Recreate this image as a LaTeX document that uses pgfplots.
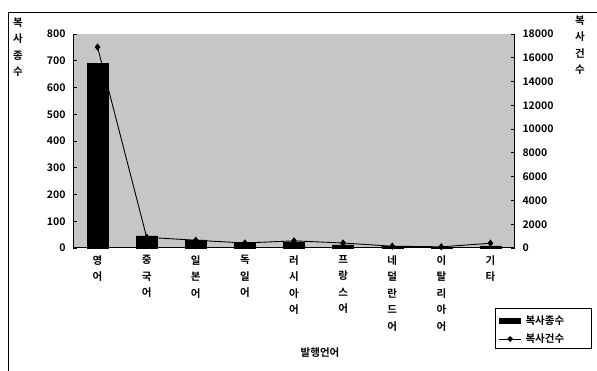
\documentclass[border=0pt]{standalone}
\usepackage{pgfplots}
\pgfplotsset{compat=1.18}
\usepackage{fontspec}
\setmainfont{Noto Sans CJK KR Bold}
\begin{document}
\begin{tikzpicture}[x=1pt,y=1pt,font=\fontsize{10.5}{16.5}\selectfont]
\useasboundingbox (0,0) rectangle (597,371);
\draw[line width=0.8pt] (8,0) -- (8,359) -- (597,359);
\begin{axis}[
  at={(73pt,123pt)}, anchor=south west,
  scale only axis, width=442pt, height=214pt,
  xmin=-0.5, xmax=8.5, ymin=0, ymax=800,
  axis background/.style={fill=gray!45},
  axis y line*=left, axis x line*=bottom,
  axis line style={line width=1pt},
  xtick={0,...,8},
  xticklabels={{영\\어},{중\\국\\어},{일\\본\\어},{독\\일\\어},{러\\시\\아\\어},{프\\랑\\스\\어},{네\\덜\\란\\드\\어},{이\\탈\\리\\아\\어},{기\\타}},
  xticklabel style={align=center, anchor=north, yshift=-4pt},
  x tick style={draw=none},
  ytick={0,100,...,800},
  ytick style={black, line width=0.8pt},
  tick align=inside, major tick length=4pt,
  yticklabel style={xshift=-4pt},
  /pgf/number format/assume math mode=true,
  clip=false,
]
\addplot[ybar, bar width=21pt, fill=black, draw=black] coordinates {
(0,690) (1,45) (2,30) (3,20) (4,22) (5,12) (6,5) (7,3) (8,8)
};
\end{axis}
\begin{axis}[
  at={(73pt,123pt)}, anchor=south west,
  scale only axis, width=442pt, height=214pt,
  xmin=-0.5, xmax=8.5, ymin=0, ymax=18000,
  axis y line*=right, axis x line=none,
  axis line style={line width=1pt},
  ytick={0,2000,...,18000},
  ytick style={black, line width=0.8pt},
  tick align=inside, major tick length=4pt,
  yticklabel style={xshift=4pt},
  scaled y ticks=false,
  /pgf/number format/assume math mode=true,
  /pgf/number format/1000 sep={},
  clip=false,
]
\addplot[black, line width=0.9pt, mark=diamond*, mark size=3pt] coordinates {
(0,16900) (1,900) (2,650) (3,420) (4,600) (5,420) (6,150) (7,100) (8,400)
};
\end{axis}
\node[align=center, anchor=north] at (18,357) {복\\사\\종\\수};
\node[align=center, anchor=north] at (580,359) {복\\사\\건\\수};
\node at (320,18) {발행언어};
\draw[line width=0.8pt] (495,23) rectangle (591,63);
\fill[black] (499,47) rectangle (521,53);
\node[anchor=west] at (522,50) {복사종수};
\draw[line width=0.9pt] (499,32) -- (521,32);
\fill[black] (510,29) -- (513,32) -- (510,35) -- (507,32) -- cycle;
\node[anchor=west] at (522,32) {복사건수};
\end{tikzpicture}
\end{document}
